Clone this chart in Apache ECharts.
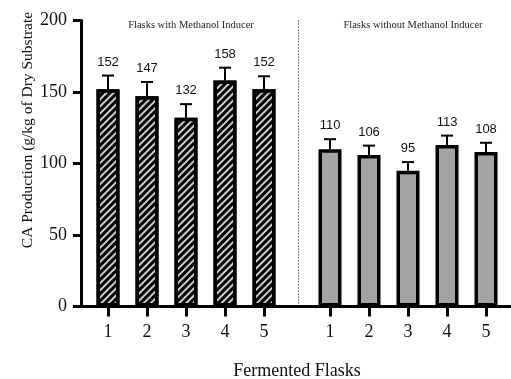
<!DOCTYPE html>
<html>
<head>
<meta charset="utf-8">
<script src="https://cdn.jsdelivr.net/npm/echarts@6/dist/echarts.min.js"></script>
<style>html,body{margin:0;padding:0;background:#fff;}#c{width:511px;height:379px;}</style>
</head>
<body>
<div id="c"></div>
<script>
var categories = ['1', '2', '3', '4', '5'];
var withMethanol = [152, 147, 132, 158, 152];
var withMethanolErr = [9.5, 10, 9.5, 9, 9];
var withoutMethanol = [110, 106, 95, 113, 108];
var withoutMethanolErr = [7, 6.5, 6, 6.5, 6.5];
var yTicks = [0, 50, 100, 150, 200];
var groupTitles = ['Flasks with Methanol Inducer', 'Flasks without Methanol Inducer'];
var yName = 'CA Production (g/kg of Dry Substrate';
var xName = 'Fermented Flasks';

var serif = '"Liberation Serif", "Times New Roman", serif';
var sans = '"Liberation Sans", Arial, sans-serif';

function errData(vals, errs) {
  return vals.map(function (v, i) { return [i, v, errs[i]]; });
}
function renderErr(params, api) {
  var i = api.value(0), v = api.value(1), e = api.value(2);
  var base = api.coord([i, v]);
  var top = api.coord([i, v + e]);
  var hw = 6;
  var st = { stroke: '#000', lineWidth: 2 };
  return {
    type: 'group',
    children: [
      { type: 'line', shape: { x1: base[0], y1: base[1], x2: top[0], y2: top[1] }, style: st },
      { type: 'line', shape: { x1: top[0] - hw, y1: top[1], x2: top[0] + hw, y2: top[1] }, style: st },
      { type: 'text', style: { text: String(v), x: top[0], y: top[1] - 7, align: 'center', verticalAlign: 'bottom', font: '13px ' + sans, fill: '#111' } }
    ]
  };
}

var yMin = yTicks[0], yMax = yTicks[yTicks.length - 1], yInt = yTicks[1] - yTicks[0];
var gTop = 20.5, gBottom = 72.5;

var catAxis = function (gi) {
  return {
    type: 'category', gridIndex: gi, data: categories,
    axisLine: { show: false },
    axisTick: { show: true, alignWithLabel: true, length: 10, lineStyle: { color: '#000', width: 3 } },
    axisLabel: { color: '#111', fontFamily: serif, fontSize: 18, margin: 17 }
  };
};

var option = {
  animation: false,
  backgroundColor: '#fff',
  title: [
    { text: groupTitles[0], left: 186, top: 15, textAlign: 'center', textStyle: { fontFamily: serif, fontSize: 10.5, fontWeight: 'normal', color: '#222' } },
    { text: groupTitles[1], left: 408, top: 15, textAlign: 'center', textStyle: { fontFamily: serif, fontSize: 10.5, fontWeight: 'normal', color: '#222' } }
  ],
  graphic: [
    { type: 'text', rotation: Math.PI / 2, x: 28, y: 130, style: { text: yName, align: 'center', verticalAlign: 'middle', font: '15.5px ' + serif, fill: '#111' } }
  ],
  grid: [
    { left: 81, right: 1, top: gTop, bottom: gBottom, outerBoundsMode: 'none', containLabel: false },
    { left: 88.5, width: 195, top: gTop, bottom: gBottom, outerBoundsMode: 'none', containLabel: false },
    { left: 310.5, width: 195, top: gTop, bottom: gBottom, outerBoundsMode: 'none', containLabel: false }
  ],
  xAxis: [
    { type: 'value', gridIndex: 0, min: 0, max: 1,
      axisLine: { show: true, onZero: false, lineStyle: { color: '#000', width: 3 } },
      axisTick: { show: false }, axisLabel: { show: false }, splitLine: { show: false },
      name: xName, nameLocation: 'middle', nameGap: 56,
      nameTextStyle: { fontFamily: serif, fontSize: 18, color: '#111', padding: [0, 0, 0, 3] } },
    catAxis(1),
    catAxis(2)
  ],
  yAxis: [
    { type: 'value', gridIndex: 0, min: yMin, max: yMax, interval: yInt,
      axisLine: { show: true, lineStyle: { color: '#000', width: 3 } },
      axisTick: { show: true, length: 8, lineStyle: { color: '#000', width: 3 } },
      axisLabel: { color: '#111', fontFamily: serif, fontSize: 18, margin: 14 },
      splitLine: { show: false } },
    { type: 'value', gridIndex: 1, min: yMin, max: yMax, interval: yInt, show: false },
    { type: 'value', gridIndex: 2, min: yMin, max: yMax, interval: yInt, offset: 12.5,
      axisLine: { show: true, lineStyle: { color: '#777', width: 1, type: [1, 2] } },
      axisTick: { show: false }, axisLabel: { show: false }, splitLine: { show: false } }
  ],
  series: [
    { type: 'bar', xAxisIndex: 1, yAxisIndex: 1, data: withMethanol, barWidth: 23,
      itemStyle: { color: '#000', borderColor: '#000', borderWidth: 3.5,
        decal: { symbol: 'rect', symbolSize: 1, color: 'rgba(215,215,215,0.95)', dashArrayX: [1, 0], dashArrayY: [1.5, 3], rotation: -Math.PI / 4 } } },
    { type: 'custom', xAxisIndex: 1, yAxisIndex: 1, data: errData(withMethanol, withMethanolErr), renderItem: renderErr, z: 5 },
    { type: 'bar', xAxisIndex: 2, yAxisIndex: 2, data: withoutMethanol, barWidth: 23,
      itemStyle: { color: '#a3a3a3', borderColor: '#000', borderWidth: 3.5 } },
    { type: 'custom', xAxisIndex: 2, yAxisIndex: 2, data: errData(withoutMethanol, withoutMethanolErr), renderItem: renderErr, z: 5 }
  ]
};
var chart = echarts.init(document.getElementById('c'), null, { renderer: 'canvas' });
chart.setOption(option);
</script>
</body>
</html>
